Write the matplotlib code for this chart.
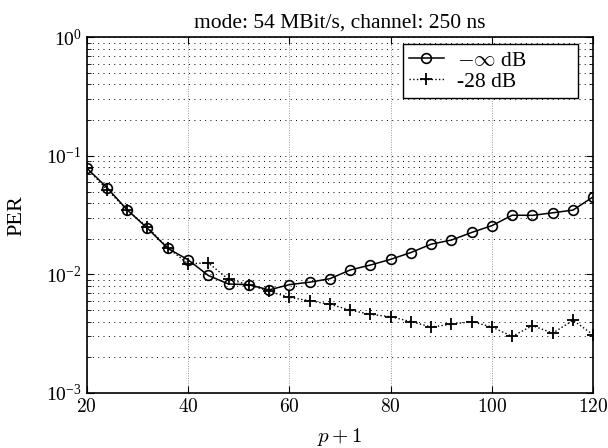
import numpy as np
import matplotlib
matplotlib.use("Agg")
import matplotlib.pyplot as plt

plt.rcParams['font.family'] = ['Liberation Serif', 'DejaVu Serif']
plt.rcParams['mathtext.fontset'] = 'cm'

# x values (p+1)
p1 = np.arange(20, 121, 4)

# PER for -inf dB
per_inf = [0.079, 0.054, 0.035, 0.0245, 0.0166, 0.0133, 0.0098, 0.0083, 0.0082, 0.0074,
           0.0082, 0.0086, 0.0092, 0.0109, 0.0120, 0.0134, 0.0153, 0.0180, 0.0195, 0.0226,
           0.0258, 0.0316, 0.0315, 0.0331, 0.0349, 0.0452]

# PER for -28 dB
per_28 = [0.079, 0.052, 0.035, 0.025, 0.0168, 0.0123, 0.0125, 0.0091, 0.0082, 0.0072,
          0.0064, 0.0060, 0.0056, 0.0050, 0.0046, 0.0044, 0.0040, 0.0036, 0.0038, 0.0040,
          0.0036, 0.0030, 0.0037, 0.0032, 0.0041, 0.0031]

fig = plt.figure(figsize=(6.08, 4.48), dpi=100)
ax = fig.add_axes([0.1426, 0.1228, 0.8332, 0.7939])

ax.semilogy(p1, per_inf, '-o', color='k', mfc='none', ms=7, mew=1.2, lw=1.1,
            label=r'$-\infty$ dB')
ax.semilogy(p1, per_28, ':+', color='k', ms=8, mew=1.3, lw=1.0, label='-28 dB')

ax.set_xlim(20, 120)
ax.set_ylim(1e-3, 1)
ax.set_xticks([20, 40, 60, 80, 100, 120])
ax.set_xticklabels(['$20$', '$40$', '$60$', '$80$', '$100$', '$120$'])
ax.grid(True, which='major', axis='x', ls=(0, (1, 1.5)), color='0.6', lw=0.7)
ax.grid(True, which='both', axis='y', ls=(0, (1, 4.5)), color='k', lw=0.7)
ax.tick_params(which='both', direction='in', top=True, right=True, labelsize=14)
ax.tick_params(which='major', length=5)
ax.tick_params(which='minor', length=3)
for s in ax.spines.values():
    s.set_linewidth(1.2)

ax.set_xlabel('$p+1$', fontsize=15, labelpad=7)
ax.set_ylabel('PER', fontsize=16, labelpad=14)
ax.set_title('mode: 54 MBit/s, channel: 250 ns', fontsize=15.5, pad=7)

# wide legend box, entries left-aligned like the original
leg = ax.legend(loc='upper left', bbox_to_anchor=(0.624, 0.832, 0.346, 0.149),
                mode='expand', borderaxespad=0,
                fontsize=15.5, fancybox=False, edgecolor='k', framealpha=1,
                handlelength=1.6, handletextpad=0.6, labelspacing=0.05,
                borderpad=0.3)
leg.get_frame().set_linewidth(1.0)

fig.savefig('out.png', dpi=100)
